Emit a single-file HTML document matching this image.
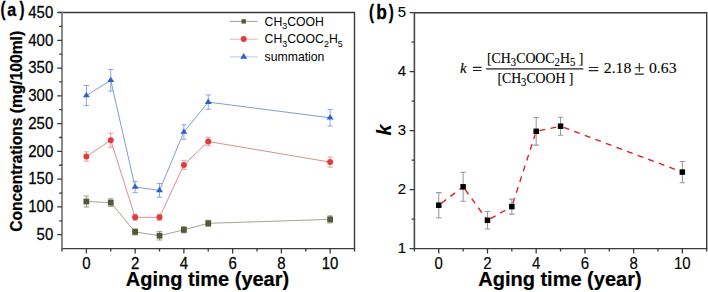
<!DOCTYPE html><html><head><meta charset="utf-8"><style>html,body{margin:0;padding:0;background:#fff;overflow:hidden}svg{display:block}</style></head><body>
<svg width="708" height="292" viewBox="0 0 708 292">
<rect width="708" height="292" fill="#fff"/>
<path d="M62.0 12.5H354.5V248.6H62.0" fill="none" stroke="#3a3a3a" stroke-width="1.4"/>
<line x1="62.0" y1="11.8" x2="62.0" y2="249.29999999999998" stroke="#8a8a8a" stroke-width="2.0"/>
<path d="M62.00 248.6V251.4M86.38 248.6V253.4M110.75 248.6V251.4M135.12 248.6V253.4M159.50 248.6V251.4M183.88 248.6V253.4M208.25 248.6V251.4M232.62 248.6V253.4M257.00 248.6V251.4M281.38 248.6V253.4M305.75 248.6V251.4M330.12 248.6V253.4M354.50 248.6V251.4" stroke="#3a3a3a" stroke-width="1.3" fill="none"/>
<path d="M62.0 234.71H57.2M62.0 220.82H59.2M62.0 206.94H57.2M62.0 193.05H59.2M62.0 179.16H57.2M62.0 165.27H59.2M62.0 151.38H57.2M62.0 137.49H59.2M62.0 123.61H57.2M62.0 109.72H59.2M62.0 95.83H57.2M62.0 81.94H59.2M62.0 68.05H57.2M62.0 54.16H59.2M62.0 40.28H57.2M62.0 26.39H59.2M62.0 12.50H57.2" stroke="#3a3a3a" stroke-width="1.3" fill="none"/>
<text transform="translate(53.30 240.03) scale(1 1.14)" text-anchor="end" font-family="&quot;Liberation Sans&quot;, sans-serif" font-size="15" font-weight="normal" font-style="normal" fill="#000" stroke="#111" stroke-width="0.25">50</text>
<text transform="translate(53.30 212.26) scale(1 1.14)" text-anchor="end" font-family="&quot;Liberation Sans&quot;, sans-serif" font-size="15" font-weight="normal" font-style="normal" fill="#000" stroke="#111" stroke-width="0.25">100</text>
<text transform="translate(53.30 184.48) scale(1 1.14)" text-anchor="end" font-family="&quot;Liberation Sans&quot;, sans-serif" font-size="15" font-weight="normal" font-style="normal" fill="#000" stroke="#111" stroke-width="0.25">150</text>
<text transform="translate(53.30 156.70) scale(1 1.14)" text-anchor="end" font-family="&quot;Liberation Sans&quot;, sans-serif" font-size="15" font-weight="normal" font-style="normal" fill="#000" stroke="#111" stroke-width="0.25">200</text>
<text transform="translate(53.30 128.93) scale(1 1.14)" text-anchor="end" font-family="&quot;Liberation Sans&quot;, sans-serif" font-size="15" font-weight="normal" font-style="normal" fill="#000" stroke="#111" stroke-width="0.25">250</text>
<text transform="translate(53.30 101.15) scale(1 1.14)" text-anchor="end" font-family="&quot;Liberation Sans&quot;, sans-serif" font-size="15" font-weight="normal" font-style="normal" fill="#000" stroke="#111" stroke-width="0.25">300</text>
<text transform="translate(53.30 73.37) scale(1 1.14)" text-anchor="end" font-family="&quot;Liberation Sans&quot;, sans-serif" font-size="15" font-weight="normal" font-style="normal" fill="#000" stroke="#111" stroke-width="0.25">350</text>
<text transform="translate(53.30 45.60) scale(1 1.14)" text-anchor="end" font-family="&quot;Liberation Sans&quot;, sans-serif" font-size="15" font-weight="normal" font-style="normal" fill="#000" stroke="#111" stroke-width="0.25">400</text>
<text transform="translate(53.30 17.82) scale(1 1.14)" text-anchor="end" font-family="&quot;Liberation Sans&quot;, sans-serif" font-size="15" font-weight="normal" font-style="normal" fill="#000" stroke="#111" stroke-width="0.25">450</text>
<text transform="translate(86.38 268.70) scale(1 1.14)" text-anchor="middle" font-family="&quot;Liberation Sans&quot;, sans-serif" font-size="15" font-weight="normal" font-style="normal" fill="#000" stroke="#111" stroke-width="0.25">0</text>
<text transform="translate(135.12 268.70) scale(1 1.14)" text-anchor="middle" font-family="&quot;Liberation Sans&quot;, sans-serif" font-size="15" font-weight="normal" font-style="normal" fill="#000" stroke="#111" stroke-width="0.25">2</text>
<text transform="translate(183.88 268.70) scale(1 1.14)" text-anchor="middle" font-family="&quot;Liberation Sans&quot;, sans-serif" font-size="15" font-weight="normal" font-style="normal" fill="#000" stroke="#111" stroke-width="0.25">4</text>
<text transform="translate(232.62 268.70) scale(1 1.14)" text-anchor="middle" font-family="&quot;Liberation Sans&quot;, sans-serif" font-size="15" font-weight="normal" font-style="normal" fill="#000" stroke="#111" stroke-width="0.25">6</text>
<text transform="translate(281.38 268.70) scale(1 1.14)" text-anchor="middle" font-family="&quot;Liberation Sans&quot;, sans-serif" font-size="15" font-weight="normal" font-style="normal" fill="#000" stroke="#111" stroke-width="0.25">8</text>
<text transform="translate(330.12 268.70) scale(1 1.14)" text-anchor="middle" font-family="&quot;Liberation Sans&quot;, sans-serif" font-size="15" font-weight="normal" font-style="normal" fill="#000" stroke="#111" stroke-width="0.25">10</text>
<text transform="translate(207.50 285.60)" text-anchor="middle" font-family="&quot;Liberation Sans&quot;, sans-serif" font-size="20" font-weight="bold" font-style="normal" fill="#000" stroke="#000" stroke-width="0.2">Aging time (year)</text>
<text transform="translate(22.40 131.40) rotate(-90) scale(1 1.06)" text-anchor="middle" font-family="&quot;Liberation Sans&quot;, sans-serif" font-size="15.6" font-weight="bold" font-style="normal" fill="#000" stroke="#000" stroke-width="0.25">Concentrations (mg/100ml)</text>
<text transform="translate(0.50 15.80) scale(0.75 1.0)" text-anchor="start" font-family="&quot;Liberation Sans&quot;, sans-serif" font-size="20.2" font-weight="bold" font-style="normal" fill="#000" stroke="#000" stroke-width="0.3">(</text>
<text transform="translate(7.20 16.30) scale(0.91 1.0)" text-anchor="start" font-family="&quot;Liberation Sans&quot;, sans-serif" font-size="17.7" font-weight="bold" font-style="normal" fill="#000" stroke="#000" stroke-width="0.3">a</text>
<text transform="translate(19.50 15.80) scale(0.75 1.0)" text-anchor="start" font-family="&quot;Liberation Sans&quot;, sans-serif" font-size="20.2" font-weight="bold" font-style="normal" fill="#000" stroke="#000" stroke-width="0.3">)</text>
<polyline points="86.38,201.5 110.75,202.6 135.12,231.9 159.50,235.7 183.88,229.8 208.25,223.3 330.12,219.4" fill="none" stroke="#a3a595" stroke-width="1"/>
<path d="M86.38 196.00V207.00M83.67 196.00H89.08M83.67 207.00H89.08" stroke="#9a9c8a" stroke-width="1" fill="none"/>
<path d="M110.75 198.80V206.40M108.05 198.80H113.45M108.05 206.40H113.45" stroke="#9a9c8a" stroke-width="1" fill="none"/>
<path d="M135.12 228.90V234.90M132.43 228.90H137.82M132.43 234.90H137.82" stroke="#9a9c8a" stroke-width="1" fill="none"/>
<path d="M159.50 231.40V240.00M156.80 231.40H162.20M156.80 240.00H162.20" stroke="#9a9c8a" stroke-width="1" fill="none"/>
<path d="M183.88 226.80V232.80M181.18 226.80H186.57M181.18 232.80H186.57" stroke="#9a9c8a" stroke-width="1" fill="none"/>
<path d="M208.25 220.30V226.30M205.55 220.30H210.95M205.55 226.30H210.95" stroke="#9a9c8a" stroke-width="1" fill="none"/>
<path d="M330.12 215.90V222.90M327.43 215.90H332.82M327.43 222.90H332.82" stroke="#9a9c8a" stroke-width="1" fill="none"/>
<rect x="83.47" y="198.60" width="5.8" height="5.8" fill="#55583a"/>
<rect x="107.85" y="199.70" width="5.8" height="5.8" fill="#55583a"/>
<rect x="132.22" y="229.00" width="5.8" height="5.8" fill="#55583a"/>
<rect x="156.60" y="232.80" width="5.8" height="5.8" fill="#55583a"/>
<rect x="180.97" y="226.90" width="5.8" height="5.8" fill="#55583a"/>
<rect x="205.35" y="220.40" width="5.8" height="5.8" fill="#55583a"/>
<rect x="327.23" y="216.50" width="5.8" height="5.8" fill="#55583a"/>
<polyline points="86.38,156.5 110.75,140.2 135.12,217.3 159.50,217.3 183.88,164.9 208.25,141.5 330.12,162.1" fill="none" stroke="#dc8e8e" stroke-width="1"/>
<path d="M86.38 151.85V161.15M83.67 151.85H89.08M83.67 161.15H89.08" stroke="#e3a0a0" stroke-width="1" fill="none"/>
<path d="M110.75 133.20V147.20M108.05 133.20H113.45M108.05 147.20H113.45" stroke="#e3a0a0" stroke-width="1" fill="none"/>
<path d="M135.12 214.30V220.30M132.43 214.30H137.82M132.43 220.30H137.82" stroke="#e3a0a0" stroke-width="1" fill="none"/>
<path d="M159.50 214.30V220.30M156.80 214.30H162.20M156.80 220.30H162.20" stroke="#e3a0a0" stroke-width="1" fill="none"/>
<path d="M183.88 160.35V169.45M181.18 160.35H186.57M181.18 169.45H186.57" stroke="#e3a0a0" stroke-width="1" fill="none"/>
<path d="M208.25 137.30V145.70M205.55 137.30H210.95M205.55 145.70H210.95" stroke="#e3a0a0" stroke-width="1" fill="none"/>
<path d="M330.12 157.10V167.10M327.43 157.10H332.82M327.43 167.10H332.82" stroke="#e3a0a0" stroke-width="1" fill="none"/>
<circle cx="86.38" cy="156.5" r="3" fill="#e03c3c"/>
<circle cx="110.75" cy="140.2" r="3" fill="#e03c3c"/>
<circle cx="135.12" cy="217.3" r="3" fill="#e03c3c"/>
<circle cx="159.50" cy="217.3" r="3" fill="#e03c3c"/>
<circle cx="183.88" cy="164.9" r="3" fill="#e03c3c"/>
<circle cx="208.25" cy="141.5" r="3" fill="#e03c3c"/>
<circle cx="330.12" cy="162.1" r="3" fill="#e03c3c"/>
<polyline points="86.38,95.5 110.75,80.3 135.12,187.0 159.50,190.4 183.88,132.0 208.25,102.1 330.12,117.8" fill="none" stroke="#7f9dd0" stroke-width="1"/>
<path d="M86.38 85.50V105.50M83.67 85.50H89.08M83.67 105.50H89.08" stroke="#8aa8dc" stroke-width="1" fill="none"/>
<path d="M110.75 69.50V91.10M108.05 69.50H113.45M108.05 91.10H113.45" stroke="#8aa8dc" stroke-width="1" fill="none"/>
<path d="M135.12 181.35V192.65M132.43 181.35H137.82M132.43 192.65H137.82" stroke="#8aa8dc" stroke-width="1" fill="none"/>
<path d="M159.50 183.55V197.25M156.80 183.55H162.20M156.80 197.25H162.20" stroke="#8aa8dc" stroke-width="1" fill="none"/>
<path d="M183.88 124.80V139.20M181.18 124.80H186.57M181.18 139.20H186.57" stroke="#8aa8dc" stroke-width="1" fill="none"/>
<path d="M208.25 94.90V109.30M205.55 94.90H210.95M205.55 109.30H210.95" stroke="#8aa8dc" stroke-width="1" fill="none"/>
<path d="M330.12 109.60V126.00M327.43 109.60H332.82M327.43 126.00H332.82" stroke="#8aa8dc" stroke-width="1" fill="none"/>
<path d="M86.38 91.90L89.88 97.30L82.88 97.30Z" fill="#2a62c8"/>
<path d="M110.75 76.70L114.25 82.10L107.25 82.10Z" fill="#2a62c8"/>
<path d="M135.12 183.40L138.62 188.80L131.62 188.80Z" fill="#2a62c8"/>
<path d="M159.50 186.80L163.00 192.20L156.00 192.20Z" fill="#2a62c8"/>
<path d="M183.88 128.40L187.38 133.80L180.38 133.80Z" fill="#2a62c8"/>
<path d="M208.25 98.50L211.75 103.90L204.75 103.90Z" fill="#2a62c8"/>
<path d="M330.12 114.20L333.62 119.60L326.62 119.60Z" fill="#2a62c8"/>
<line x1="230" y1="21.4" x2="257.6" y2="21.4" stroke="#9c9e8c" stroke-width="1"/>
<rect x="241.5" y="19.2" width="4.4" height="4.4" fill="#55583a"/>
<line x1="230" y1="39.2" x2="257.6" y2="39.2" stroke="#e9b0b0" stroke-width="1"/>
<circle cx="243.7" cy="38.900000000000006" r="3.0" fill="#e03c3c"/>
<line x1="230" y1="56.9" x2="257.6" y2="56.9" stroke="#b3c6e8" stroke-width="1"/>
<path d="M243.7 53.1L247.2 58.699999999999996L240.2 58.699999999999996Z" fill="#2a62c8"/>
<text transform="translate(264.60 25.50) scale(1.02 1.05)" text-anchor="start" font-family="&quot;Liberation Sans&quot;, sans-serif" font-size="12" font-weight="normal" font-style="normal" fill="#000" >CH<tspan font-size="8.8" dy="3.6">3</tspan><tspan dy="-3.6">COOH</tspan></text>
<text transform="translate(264.60 43.40) scale(1.02 1.05)" text-anchor="start" font-family="&quot;Liberation Sans&quot;, sans-serif" font-size="12" font-weight="normal" font-style="normal" fill="#000" >CH<tspan font-size="8.8" dy="3.6">3</tspan><tspan dy="-3.6">COOC</tspan><tspan font-size="8.8" dy="3.6">2</tspan><tspan dy="-3.6">H</tspan><tspan font-size="8.8" dy="3.6">5</tspan></text>
<text transform="translate(264.60 61.30) scale(1.02 1.05)" text-anchor="start" font-family="&quot;Liberation Sans&quot;, sans-serif" font-size="12" font-weight="normal" font-style="normal" fill="#000" >summation</text>
<path d="M414.4 12.7H706.7V248.6H414.4" fill="none" stroke="#3a3a3a" stroke-width="1.4"/>
<line x1="414.4" y1="12.0" x2="414.4" y2="249.29999999999998" stroke="#4a4a4a" stroke-width="1.6"/>
<path d="M414.40 248.6V251.4M438.76 248.6V253.4M463.12 248.6V251.4M487.48 248.6V253.4M511.83 248.6V251.4M536.19 248.6V253.4M560.55 248.6V251.4M584.91 248.6V253.4M609.27 248.6V251.4M633.62 248.6V253.4M657.98 248.6V251.4M682.34 248.6V253.4M706.70 248.6V251.4" stroke="#3a3a3a" stroke-width="1.3" fill="none"/>
<path d="M414.4 248.60H409.59999999999997M414.4 219.11H411.59999999999997M414.4 189.62H409.59999999999997M414.4 160.14H411.59999999999997M414.4 130.65H409.59999999999997M414.4 101.16H411.59999999999997M414.4 71.67H409.59999999999997M414.4 42.19H411.59999999999997M414.4 12.70H409.59999999999997" stroke="#3a3a3a" stroke-width="1.3" fill="none"/>
<text transform="translate(406.00 253.23) scale(1 1.03)" text-anchor="end" font-family="&quot;Liberation Sans&quot;, sans-serif" font-size="15" font-weight="normal" font-style="normal" fill="#000" stroke="#111" stroke-width="0.1">1</text>
<text transform="translate(406.00 194.26) scale(1 1.03)" text-anchor="end" font-family="&quot;Liberation Sans&quot;, sans-serif" font-size="15" font-weight="normal" font-style="normal" fill="#000" stroke="#111" stroke-width="0.1">2</text>
<text transform="translate(406.00 135.28) scale(1 1.03)" text-anchor="end" font-family="&quot;Liberation Sans&quot;, sans-serif" font-size="15" font-weight="normal" font-style="normal" fill="#000" stroke="#111" stroke-width="0.1">3</text>
<text transform="translate(406.00 76.31) scale(1 1.03)" text-anchor="end" font-family="&quot;Liberation Sans&quot;, sans-serif" font-size="15" font-weight="normal" font-style="normal" fill="#000" stroke="#111" stroke-width="0.1">4</text>
<text transform="translate(406.00 17.33) scale(1 1.03)" text-anchor="end" font-family="&quot;Liberation Sans&quot;, sans-serif" font-size="15" font-weight="normal" font-style="normal" fill="#000" stroke="#111" stroke-width="0.1">5</text>
<text transform="translate(438.76 268.70) scale(1 1.05)" text-anchor="middle" font-family="&quot;Liberation Sans&quot;, sans-serif" font-size="15" font-weight="normal" font-style="normal" fill="#000" stroke="#111" stroke-width="0.15">0</text>
<text transform="translate(487.48 268.70) scale(1 1.05)" text-anchor="middle" font-family="&quot;Liberation Sans&quot;, sans-serif" font-size="15" font-weight="normal" font-style="normal" fill="#000" stroke="#111" stroke-width="0.15">2</text>
<text transform="translate(536.19 268.70) scale(1 1.05)" text-anchor="middle" font-family="&quot;Liberation Sans&quot;, sans-serif" font-size="15" font-weight="normal" font-style="normal" fill="#000" stroke="#111" stroke-width="0.15">4</text>
<text transform="translate(584.91 268.70) scale(1 1.05)" text-anchor="middle" font-family="&quot;Liberation Sans&quot;, sans-serif" font-size="15" font-weight="normal" font-style="normal" fill="#000" stroke="#111" stroke-width="0.15">6</text>
<text transform="translate(633.62 268.70) scale(1 1.05)" text-anchor="middle" font-family="&quot;Liberation Sans&quot;, sans-serif" font-size="15" font-weight="normal" font-style="normal" fill="#000" stroke="#111" stroke-width="0.15">8</text>
<text transform="translate(682.34 268.70) scale(1 1.05)" text-anchor="middle" font-family="&quot;Liberation Sans&quot;, sans-serif" font-size="15" font-weight="normal" font-style="normal" fill="#000" stroke="#111" stroke-width="0.15">10</text>
<text transform="translate(559.90 285.60)" text-anchor="middle" font-family="&quot;Liberation Sans&quot;, sans-serif" font-size="20" font-weight="bold" font-style="normal" fill="#000" stroke="#000" stroke-width="0.2">Aging time (year)</text>
<text transform="translate(391.00 130.00) rotate(-90)" text-anchor="middle" font-family="&quot;Liberation Sans&quot;, sans-serif" font-size="20" font-weight="bold" font-style="italic" fill="#000" >k</text>
<text transform="translate(369.10 18.80) scale(0.75 1.0)" text-anchor="start" font-family="&quot;Liberation Sans&quot;, sans-serif" font-size="20.2" font-weight="bold" font-style="normal" fill="#000" stroke="#000" stroke-width="0.3">(</text>
<text transform="translate(376.20 18.60) scale(0.88 1.0)" text-anchor="start" font-family="&quot;Liberation Sans&quot;, sans-serif" font-size="19.8" font-weight="bold" font-style="normal" fill="#000" stroke="#000" stroke-width="0.3">b</text>
<text transform="translate(388.70 18.80) scale(0.75 1.0)" text-anchor="start" font-family="&quot;Liberation Sans&quot;, sans-serif" font-size="20.2" font-weight="bold" font-style="normal" fill="#000" stroke="#000" stroke-width="0.3">)</text>
<path d="M441.39 203.21L460.48 188.79" fill="none" stroke="#e8161e" stroke-width="1.35" stroke-dasharray="5.9 5.4"/>
<path d="M465.06 189.47L485.53 217.63" fill="none" stroke="#e8161e" stroke-width="1.35" stroke-dasharray="5.9 5.4"/>
<path d="M490.35 218.68L508.96 208.22" fill="none" stroke="#e8161e" stroke-width="1.35" stroke-dasharray="5.9 5.4"/>
<path d="M512.85 203.46L535.18 134.44" fill="none" stroke="#e8161e" stroke-width="1.35" stroke-dasharray="5.9 5.4"/>
<path d="M539.42 130.62L557.32 126.88" fill="none" stroke="#e8161e" stroke-width="1.35" stroke-dasharray="5.9 5.4"/>
<path d="M563.64 127.36L679.25 170.94" fill="none" stroke="#e8161e" stroke-width="1.35" stroke-dasharray="5.9 5.4"/>
<path d="M438.76 192.60V217.80M436.06 192.60H441.46M436.06 217.80H441.46" stroke="#999" stroke-width="1.05" fill="none"/>
<path d="M463.12 172.30V201.30M460.42 172.30H465.82M460.42 201.30H465.82" stroke="#999" stroke-width="1.05" fill="none"/>
<path d="M487.48 211.55V229.05M484.78 211.55H490.18M484.78 229.05H490.18" stroke="#999" stroke-width="1.05" fill="none"/>
<path d="M511.83 199.10V214.10M509.13 199.10H514.53M509.13 214.10H514.53" stroke="#999" stroke-width="1.05" fill="none"/>
<path d="M536.19 117.50V145.10M533.49 117.50H538.89M533.49 145.10H538.89" stroke="#999" stroke-width="1.05" fill="none"/>
<path d="M560.55 117.20V135.20M557.85 117.20H563.25M557.85 135.20H563.25" stroke="#999" stroke-width="1.05" fill="none"/>
<path d="M682.34 161.40V182.80M679.64 161.40H685.04M679.64 182.80H685.04" stroke="#999" stroke-width="1.05" fill="none"/>
<rect x="436.01" y="202.45" width="5.5" height="5.5" fill="#000"/>
<rect x="460.37" y="184.05" width="5.5" height="5.5" fill="#000"/>
<rect x="484.73" y="217.55" width="5.5" height="5.5" fill="#000"/>
<rect x="509.08" y="203.85" width="5.5" height="5.5" fill="#000"/>
<rect x="533.44" y="128.55" width="5.5" height="5.5" fill="#000"/>
<rect x="557.80" y="123.45" width="5.5" height="5.5" fill="#000"/>
<rect x="679.59" y="169.35" width="5.5" height="5.5" fill="#000"/>
<text transform="translate(460.00 73.00)" text-anchor="start" font-family="&quot;Liberation Serif&quot;, serif" font-size="15" font-weight="normal" font-style="italic" fill="#000" stroke="#111" stroke-width="0.12">k</text>
<path d="M472.9 67.4H481.6M472.9 70.5H481.6M588.8 67.5H598.3M588.8 70.6H598.3" stroke="#222" stroke-width="1.1"/>
<line x1="486.1" y1="68.9" x2="583.3" y2="68.9" stroke="#222" stroke-width="1.1"/>
<text transform="translate(487.00 62.50) scale(1.065 1.2)" text-anchor="start" font-family="&quot;Liberation Serif&quot;, serif" font-size="13" font-weight="normal" font-style="normal" fill="#000" stroke="#111" stroke-width="0.12">[CH<tspan font-size="10" dy="2.7">3</tspan><tspan dy="-2.7">COOC</tspan><tspan font-size="10" dy="2.7">2</tspan><tspan dy="-2.7">H</tspan><tspan font-size="10" dy="2.7">5</tspan><tspan dy="-2.7"> ]</tspan></text>
<text transform="translate(535.40 83.00) scale(1.06 1.2)" text-anchor="middle" font-family="&quot;Liberation Serif&quot;, serif" font-size="13" font-weight="normal" font-style="normal" fill="#000" stroke="#111" stroke-width="0.12">[CH<tspan font-size="10" dy="2.7">3</tspan><tspan dy="-2.7">COOH ]</tspan></text>
<text transform="translate(603.80 73.30) scale(1.05 1.04)" text-anchor="start" font-family="&quot;Liberation Serif&quot;, serif" font-size="15" font-weight="normal" font-style="normal" fill="#000" stroke="#111" stroke-width="0.12">2.18</text>
<text transform="translate(649.00 73.30) scale(1.05 1.04)" text-anchor="start" font-family="&quot;Liberation Serif&quot;, serif" font-size="15" font-weight="normal" font-style="normal" fill="#000" stroke="#111" stroke-width="0.12">0.63</text>
<path d="M639.3 63.1V71.7M634.8 67.8H643.8M634.8 74.1H643.8" stroke="#222" stroke-width="1.1"/>
</svg></body></html>
